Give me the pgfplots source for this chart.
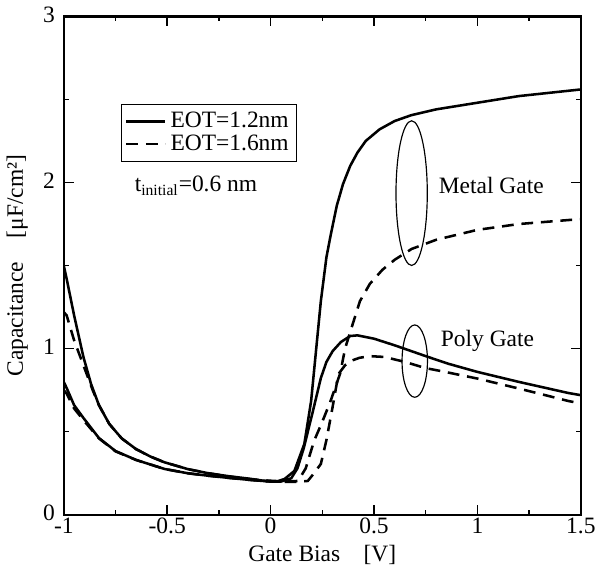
\documentclass[border=0pt]{standalone}
\usepackage{pgfplots}
\pgfplotsset{compat=1.18}
\usepackage{fontspec}
\setmainfont{Liberation Serif}
\begin{document}
\begin{tikzpicture}
\begin{axis}[
  scale only axis, width=264.5pt, height=255pt,
  xmin=-1, xmax=1.5, ymin=0, ymax=3,
  xtick={-1,-0.5,0,0.5,1,1.5}, xticklabels={-1,-0.5,0,0.5,1,1.5},
  ytick={0,1,2,3}, minor x tick num=1, minor y tick num=1,
  /pgf/number format/assume math mode=true,
  tick align=inside, major tick length=5pt, minor tick length=2.5pt,
  tick style={black, line width=0.7pt},
  axis line style={line width=1.3pt},
  font=\fontsize{12}{13.5}\selectfont,
  xlabel={Gate Bias\quad[V]}, ylabel={Capacitance\quad[μF/cm²]},
  xlabel style={yshift=1pt}, ylabel style={yshift=1pt},
  xticklabel style={yshift=2pt}, yticklabel style={xshift=-1pt, yshift=1pt},
  legend style={at={(0.11,0.824)}, anchor=north west, draw=black, line width=0.5pt,
    font=\fontsize{12}{13.5}\selectfont, row sep=-2pt, inner sep=2pt},
  legend cell align=left,
  legend image code/.code={\draw[#1, line width=1.3pt] (0pt,0pt) -- (20pt,0pt);},
]
% metal gate, EOT=1.2nm
\addplot[black, line width=1.3pt] coordinates {(-1,1.5) (-0.986,1.42) (-0.95,1.2) (-0.905,0.95) (-0.868,0.787) (-0.83,0.66) (-0.78,0.547) (-0.72,0.46) (-0.65,0.395) (-0.58,0.35) (-0.513,0.316) (-0.4,0.275) (-0.3,0.25) (-0.2,0.232) (-0.1,0.217) (-0.04,0.206) (0.03,0.2) (0.068,0.216) (0.115,0.264) (0.163,0.426) (0.196,0.685) (0.243,1.286) (0.27,1.55) (0.29,1.68) (0.32,1.86) (0.35,1.99) (0.385,2.1) (0.42,2.18) (0.46,2.25) (0.527,2.32) (0.6,2.37) (0.68,2.405) (0.8,2.44) (1.0,2.48) (1.2,2.52) (1.5,2.56)};
\addlegendentry{EOT=1.2nm}
% metal gate, EOT=1.6nm
\addplot[black, line width=1.3pt, dash pattern=on 6pt off 4pt] coordinates {(-1,1.22) (-0.986,1.2) (-0.95,1.05) (-0.905,0.9) (-0.86,0.75) (-0.83,0.66) (-0.78,0.547) (-0.72,0.46) (-0.65,0.395) (-0.58,0.35) (-0.513,0.316) (-0.4,0.275) (-0.3,0.25) (-0.2,0.23) (-0.1,0.214) (0,0.205) (0.08,0.2) (0.133,0.204) (0.17,0.28) (0.21,0.444) (0.25,0.56) (0.29,0.685) (0.337,0.853) (0.36,1.0) (0.39,1.12) (0.432,1.286) (0.48,1.39) (0.541,1.475) (0.6,1.535) (0.682,1.6) (0.8,1.655) (1.0,1.715) (1.2,1.75) (1.5,1.78)};
\addlegendentry{EOT=1.6nm}
% poly gate, EOT=1.2nm
\addplot[black, line width=1.3pt, forget plot] coordinates {(-1,0.8) (-0.986,0.763) (-0.95,0.66) (-0.905,0.583) (-0.83,0.462) (-0.75,0.384) (-0.65,0.33) (-0.513,0.276) (-0.4,0.25) (-0.3,0.235) (-0.2,0.222) (-0.1,0.21) (0,0.2) (0.05,0.2) (0.1,0.22) (0.13,0.28) (0.16,0.4) (0.2,0.6) (0.243,0.823) (0.27,0.92) (0.3,0.985) (0.34,1.04) (0.385,1.076) (0.42,1.08) (0.5,1.06) (0.6,1.02) (0.75,0.955) (0.857,0.91) (1.0,0.86) (1.2,0.8) (1.44,0.733) (1.5,0.72)};
% poly gate, EOT=1.6nm
\addplot[black, line width=1.3pt, dash pattern=on 6pt off 4pt, forget plot] coordinates {(-1,0.75) (-0.986,0.73) (-0.95,0.64) (-0.905,0.57) (-0.83,0.46) (-0.75,0.382) (-0.65,0.33) (-0.513,0.276) (-0.4,0.25) (-0.3,0.235) (-0.2,0.222) (-0.1,0.21) (0,0.2) (0.1,0.198) (0.15,0.2) (0.18,0.204) (0.21,0.25) (0.243,0.306) (0.27,0.45) (0.3,0.65) (0.328,0.847) (0.36,0.9) (0.385,0.925) (0.43,0.945) (0.48,0.955) (0.55,0.95) (0.65,0.92) (0.749,0.883) (0.824,0.865) (1.0,0.82) (1.2,0.76) (1.44,0.685) (1.5,0.67)};
\draw[line width=0.6pt] (axis cs:0.682,1.936) ellipse [x radius=8pt, y radius=37pt];
\draw[line width=0.6pt] (axis cs:0.697,0.925) ellipse [x radius=6.5pt, y radius=18.5pt];
\node[anchor=west] at (axis cs:0.78,1.98) {Metal Gate};
\node[anchor=west] at (axis cs:0.79,1.046) {Poly Gate};
\node[anchor=west] at (axis cs:-0.69,1.98) {t\textsubscript{initial}=0.6 nm};
\end{axis}
\end{tikzpicture}
\end{document}
